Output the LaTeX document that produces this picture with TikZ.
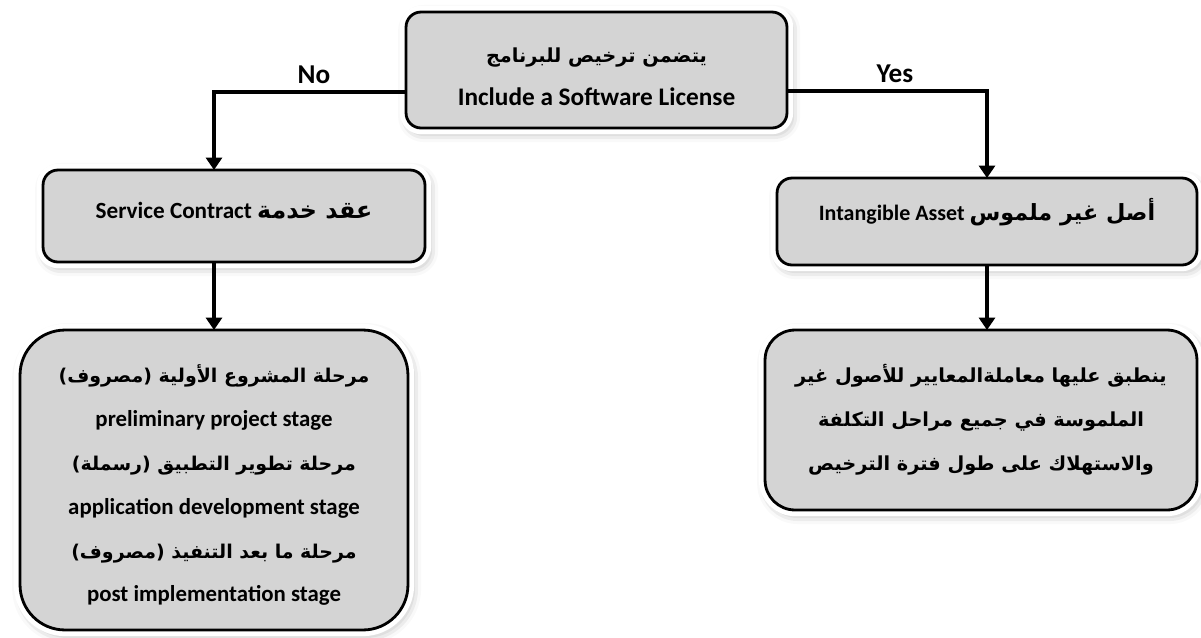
\documentclass[tikz,border=0pt]{standalone}
\usepackage{fontspec}
\setmainfont{Carlito}
\newfontfamily\arabicfont[Script=Arabic]{DejaVu Sans}
\TeXXeTstate=1
\usetikzlibrary{arrows.meta,shadows.blur}
\newcommand\arsize[1]{\arabicfont\fontsize{#1}{25}\selectfont}
\newcommand\topstrut{\rule{0pt}{16pt}}
\tikzset{
  box/.style={rectangle, rounded corners=0.3cm, draw=black, line width=1.6pt, fill=black!17,
    inner sep=0pt, outer sep=0pt, align=center,
    blur shadow={shadow xshift=1.5pt, shadow yshift=-2pt, shadow blur radius=6pt, shadow opacity=40},
    preaction={draw=white, line width=7pt}},
  en/.style={font=\bfseries\fontsize{#1}{25}\selectfont},
  flow/.style={line width=2.3pt, -{Triangle[length=7pt,width=9pt]}},
  yesno/.style={font=\bfseries\fontsize{15.5}{18}\selectfont, above}
}
\begin{document}
\begin{tikzpicture}[x=0.02cm, y=-0.02cm]
\useasboundingbox (0,0) rectangle (1201,637);

\node[box, en=14.4, minimum width=7.62cm, minimum height=2.32cm] (incl) at (596.5,70)
  {\topstrut{\arsize{11}\beginR يتضمن ترخيص للبرنامج\endR}\\Include a Software License};
\node[box, en=13.2, minimum width=7.64cm, minimum height=1.84cm, text depth=6pt] (service) at (234,216)
  {Service Contract {\arsize{13.5}\beginR عقد خدمة\endR}};
\node[box, en=12.5, minimum width=8.4cm, minimum height=1.74cm, text depth=14pt] (intang) at (987,221.5)
  {Intangible Asset {\arsize{12.7}\beginR أصل غير ملموس\endR}};
\node[box, en=13, rounded corners=0.9cm, minimum width=7.76cm, minimum height=6cm] (stages) at (214,480)
  {\topstrut{\arsize{10.8}\beginR مرحلة المشروع الأولية (مصروف)\endR}\\
   preliminary project stage\\
   {\arsize{10.8}\beginR مرحلة تطوير التطبيق (رسملة)\endR}\\
   application development stage\\
   {\arsize{10.8}\beginR مرحلة ما بعد التنفيذ (مصروف)\endR}\\
   post implementation stage};
\node[box, en=13, rounded corners=0.6cm, minimum width=8.64cm, minimum height=3.6cm] (rules) at (981,420)
  {{\arsize{11}\beginR ينطبق عليها معاملةالمعايير للأصول غير\endR}\\
   {\arsize{11}\beginR الملموسة في جميع مراحل التكلفة\endR}\\
   {\arsize{11}\beginR والاستهلاك على طول فترة الترخيص\endR}};

\draw[flow] ([yshift=-0.44cm]incl.west) -| (service.north -| stages.north) node[yesno, pos=0.24] {No};
\draw[flow] ([yshift=-0.42cm]incl.east) -| (intang.north) node[yesno, pos=0.27] {Yes};
\draw[flow] (stages.north |- service.south) -- (stages.north);
\draw[flow] (intang.south) -- (intang.south |- rules.north);
\end{tikzpicture}
\end{document}
